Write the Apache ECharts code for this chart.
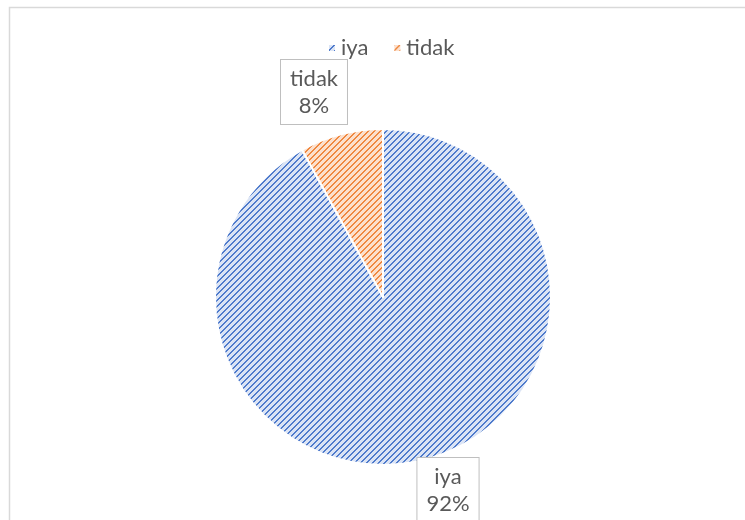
<!DOCTYPE html>
<html>
<head>
<meta charset="utf-8">
<script src="https://cdn.jsdelivr.net/npm/echarts@6/dist/echarts.min.js"></script>
<style>
html,body{margin:0;padding:0;background:#fff;}
#chart{width:745px;height:520px;}
</style>
</head>
<body>
<div id="chart"></div>
<script>
const categories = ['iya', 'tidak'];
const values = [92, 8];
const baseColors = ['#4f7bcc', '#ef8840'];
const bgColors = ['#dbe4f5', '#fce0cd'];

function makePattern(fg, bg) {
  const p = 6;
  const c = document.createElement('canvas');
  c.width = p; c.height = p;
  const ctx = c.getContext('2d');
  ctx.fillStyle = bg;
  ctx.fillRect(0, 0, p, p);
  ctx.fillStyle = fg;
  for (let x = 0; x < p; x++) {
    for (let y = 0; y < p; y++) {
      const m = (x + y) % p;
      if (m === 0 || m === 1) ctx.fillRect(x, y, 1, 1);
    }
  }
  return { image: c, repeat: 'repeat' };
}

const chart = echarts.init(document.getElementById('chart'), null, { renderer: 'canvas' });
const data = categories.map((name, i) => ({
  name: name,
  value: values[i],
  itemStyle: { color: makePattern(baseColors[i], bgColors[i]) }
}));

const labelPos = { 'tidak': [314, 92], 'iya': [448, 490] };

chart.setOption({
  animation: false,
  graphic: [{
    type: 'rect',
    shape: { x: 9.5, y: 7.5, width: 800, height: 600 },
    style: { fill: 'none', stroke: '#d9d9d9', lineWidth: 1.5 },
    silent: true
  }],
  legend: {
    top: 32,
    left: 322,
    itemWidth: 8,
    itemHeight: 8,
    itemGap: 24,
    icon: 'rect',
    textStyle: { fontFamily: 'Lato', fontSize: 22, color: '#595959' },
    data: categories
  },
  series: [{
    type: 'pie',
    center: [383, 297],
    radius: 168,
    startAngle: 90,
    clockwise: true,
    data: data,
    itemStyle: { borderColor: '#ffffff', borderWidth: 2 },
    label: {
      show: true,
      formatter: '{b}\n{d}%',
      fontFamily: 'Lato',
      fontSize: 22,
      lineHeight: 27,
      color: '#595959',
      backgroundColor: '#ffffff',
      borderColor: '#bfbfbf',
      borderWidth: 1,
      padding: [5, 9, 5, 9],
      align: 'center'
    },
    labelLine: { show: false },
    labelLayout: function (params) {
      const name = categories[params.dataIndex];
      const p = labelPos[name];
      return { x: p[0], y: p[1], align: 'center', verticalAlign: 'middle' };
    }
  }]
});
</script>
</body>
</html>
